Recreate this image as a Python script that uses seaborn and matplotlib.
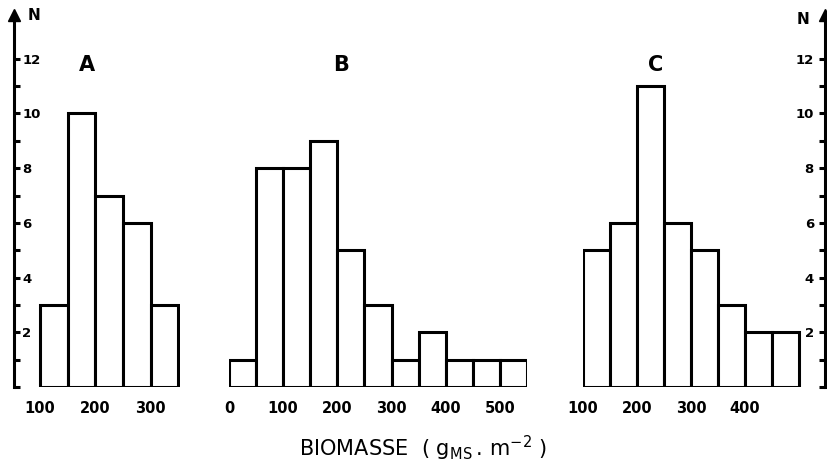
import numpy as np
import matplotlib
matplotlib.use("Agg")
import matplotlib.pyplot as plt
import seaborn as sns

# ---- data ----
bin_width = 50
a_left = [100, 150, 200, 250, 300]
a_counts = [3, 10, 7, 6, 3]
b_left = [0, 50, 100, 150, 200, 250, 300, 350, 400, 450, 500]
b_counts = [1, 8, 8, 9, 5, 3, 1, 2, 1, 1, 1]
c_left = [100, 150, 200, 250, 300, 350, 400, 450]
c_counts = [5, 6, 11, 6, 5, 3, 2, 2]
a_ticks = [100, 200, 300]
b_ticks = [0, 100, 200, 300, 400, 500]
c_ticks = [100, 200, 300, 400]
y_major = [0, 2, 4, 6, 8, 10, 12]
y_labels = ["", "2", "4", "6", "8", "10", "12"]
y_minor = [1, 3, 5, 7, 9, 11]
panel_names = ["A", "B", "C"]

sns.set_style("white")
plt.rcParams["font.family"] = ["DejaVu Sans"]
plt.rcParams["mathtext.fontset"] = "dejavusans"
for k in ["text.color", "axes.labelcolor", "xtick.color", "ytick.color",
          "axes.edgecolor"]:
    plt.rcParams[k] = "black"

W, H = 827, 467
fig = plt.figure(figsize=(W / 100, H / 100), dpi=100)

y_bot_px, y_top_px = 387, 15
ytop = 13.6

def make_ax(left_px, right_px):
    return fig.add_axes([left_px / W, (H - y_bot_px) / H,
                         (right_px - left_px) / W, (y_bot_px - y_top_px) / H])

axA = make_ax(14, 180)
axB = make_ax(229, 527)
axC = make_ax(583, 825)

specs = [
    (axA, a_left, a_counts, a_ticks, (53, 353)),
    (axB, b_left, b_counts, b_ticks, (0, 550)),
    (axC, c_left, c_counts, c_ticks, (100, 548)),
]

lw = 2.2
for ax, left, counts, ticks, xlim in specs:
    centers = np.asarray(left, dtype=float) + bin_width / 2
    sns.histplot(x=centers, weights=counts, binwidth=bin_width,
                 binrange=(left[0], left[-1] + bin_width),
                 color="white", edgecolor="black", linewidth=lw,
                 alpha=1, ax=ax)
    ax.set_xlim(*xlim)
    ax.set_ylim(0, ytop)
    ax.set_xticks(ticks)
    ax.set_xticklabels([str(t) for t in ticks], fontsize=10.5,
                       fontweight="bold", color="black")
    ax.tick_params(axis="x", length=0, pad=10)
    ax.set_xlabel("")
    ax.set_ylabel("")
    ax.patch.set_alpha(0)
    for s in ax.spines.values():
        s.set_visible(False)
    ax.set_yticks([])

# left axis on A
axA.spines["left"].set_visible(True)
axA.spines["left"].set_linewidth(lw)
axA.set_yticks(y_major)
axA.set_yticklabels(y_labels, fontsize=9.5, fontweight="bold", color="black")
axA.set_yticks(y_minor, minor=True)
axA.tick_params(axis="y", which="both", direction="in", length=4, width=lw,
                pad=-6, left=True, color="black")
for t in axA.get_yticklabels():
    t.set_horizontalalignment("left")
axA.plot([0], [ytop], marker="^", ms=8, color="black", clip_on=False,
         transform=axA.get_yaxis_transform())

# right axis on C
axC.spines["right"].set_visible(True)
axC.spines["right"].set_linewidth(lw)
axC.yaxis.tick_right()
axC.set_yticks(y_major)
axC.set_yticklabels(y_labels, fontsize=9.5, fontweight="bold", color="black")
axC.set_yticks(y_minor, minor=True)
axC.tick_params(axis="y", which="both", direction="in", length=4, width=lw,
                pad=-8, right=True, left=False, color="black")
for t in axC.get_yticklabels():
    t.set_horizontalalignment("right")
axC.plot([1], [ytop], marker="^", ms=8, color="black", clip_on=False,
         transform=axC.get_yaxis_transform())

# N labels
fig.text(34 / W, 1 - 16 / H, "N", fontsize=11, fontweight="bold",
         ha="center", va="center", color="black")
fig.text(803 / W, 1 - 19 / H, "N", fontsize=11, fontweight="bold",
         ha="center", va="center", color="black")

# panel letters
for name, xpx in zip(panel_names, [87, 341, 656]):
    fig.text(xpx / W, 1 - 65 / H, name, fontsize=15, fontweight="bold",
             ha="center", va="center", color="black")

# x label
fig.text(423 / W, 1 - 448 / H,
         r"BIOMASSE  ( $\mathregular{g_{MS}\,.\,m^{-2}}$ )",
         fontsize=15, ha="center", va="center", color="black")

fig.savefig("out.png", dpi=100)
